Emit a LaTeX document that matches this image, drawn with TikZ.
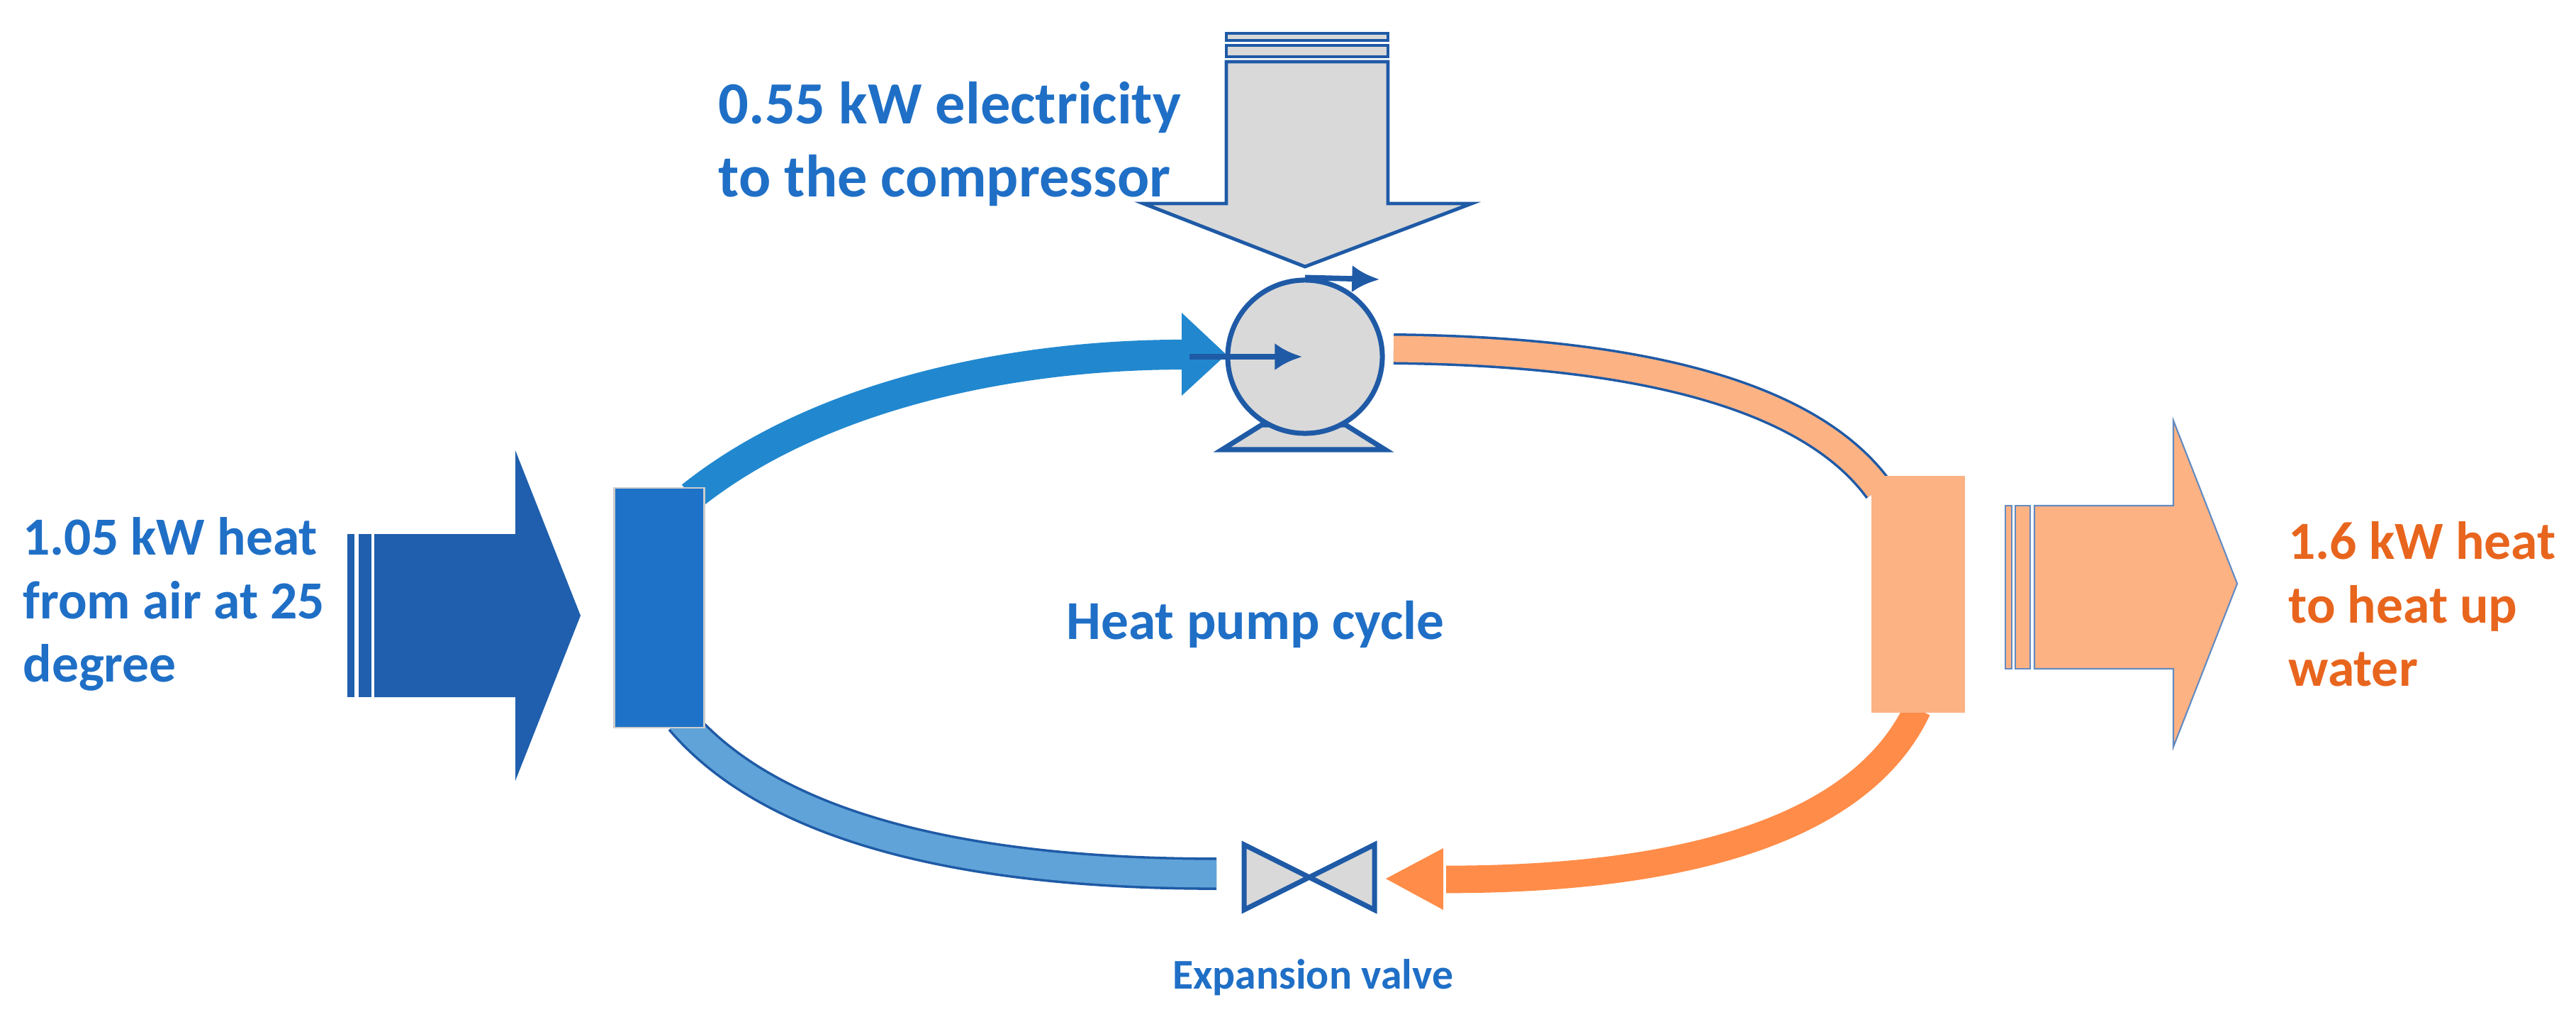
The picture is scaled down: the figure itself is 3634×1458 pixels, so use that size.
\documentclass[tikz,border=0pt]{standalone}
\usepackage{fontspec}
\setmainfont{Carlito}
\usetikzlibrary{shapes.geometric,arrows.meta}
\definecolor{tblue}{HTML}{1F6FC6}
\definecolor{darrow}{HTML}{1F5FAD}
\definecolor{boxb}{HTML}{1E72C8}
\definecolor{arcb}{HTML}{2188CF}
\definecolor{arcl}{HTML}{5FA3D8}
\definecolor{lor}{HTML}{FDB284}
\definecolor{dor}{HTML}{FF8C48}
\definecolor{tor}{HTML}{E8651E}
\definecolor{gr}{HTML}{D9D9D9}
\definecolor{edge}{HTML}{1F5AA6}
\begin{document}
\begin{tikzpicture}[x=0.01cm,y=-0.01cm,
  lbl/.style={font=\bfseries\fontsize{21.5}{25.5}\selectfont,text=tblue,align=left},
  gshape/.style={fill=gr,draw=edge,line width=2pt}]
\useasboundingbox (0,0) rectangle (3634,1458);
% left input arrow
\fill[darrow] (490,753) rectangle (500,983);
\fill[darrow] (506,753) rectangle (524,983);
\fill[darrow] (528,753) -- (727,753) -- (727,635) -- (819,868) -- (727,1101) -- (727,983) -- (528,983) -- cycle;
% top blue arc
\coordinate (a1) at (975,700);
\coordinate (a2) at (1670,500);
\draw[arcb,line width=12pt] (a1) .. controls (1150,560) and (1420,500) .. (a2);
\fill[arcb] (1667,441) -- (1730,500) -- (1667,558) -- cycle;
% orange top arc
\coordinate (o1) at (1966,492);
\coordinate (o2) at (2650,690);
\draw[edge,line width=12.5pt] (o1) .. controls (2260,495) and (2540,540) .. (o2);
\draw[lor,line width=10.5pt] (o1) .. controls (2260,495) and (2540,540) .. (o2);
% bottom blue arc
\coordinate (b1) at (960,1015);
\coordinate (b2) at (1716,1232);
\draw[edge,line width=13pt] (b1) .. controls (1100,1180) and (1400,1232) .. (b2);
\draw[arcl,line width=11pt] (b1) .. controls (1100,1180) and (1400,1232) .. (b2);
% orange bottom arrow
\coordinate (c1) at (2705,1000);
\coordinate (c2) at (2040,1240);
\draw[dor,line width=11pt] (c1) .. controls (2620,1180) and (2350,1240) .. (c2);
\fill[dor] (2036,1196) -- (1955,1239) -- (2036,1283) -- cycle;
% evaporator box
\node[fill=boxb,draw=gray!40,line width=0.6pt,inner sep=0,
  minimum width=1.27cm, minimum height=3.37cm] (evap) at (930,857) {};
% condenser box
\node[fill=lor,inner sep=0,minimum width=1.32cm,minimum height=3.33cm] (cond) at (2706,838) {};
% compressor
\draw[gshape] (1780,599) -- (1898,599) -- (1954,634) -- (1724,634) -- cycle;
\node[ellipse,gshape,minimum width=2.18cm,minimum height=2.16cm,inner sep=0] (comp) at (1841,503) {};
\draw[edge,line width=2.2pt,-{Latex[length=11pt,width=11pt]}] (1678,503) -- (1837,503);
\draw[edge,line width=2.2pt,-{Latex[length=11pt,width=11pt]}] (comp.north) -- (1946,394);
% electricity arrow
\draw[gshape,line width=1.4pt] (1730,47) rectangle (1958,57);
\draw[gshape,line width=1.4pt] (1730,64) rectangle (1958,80);
\draw[gshape,line width=1.4pt] (1730,87) -- (1958,87) -- (1958,287) -- (2076,287) -- (1841,376) -- (1613,287) -- (1730,287) -- cycle;
% valve
\draw[gshape] (1755,1191) -- (1939,1283) -- (1939,1191) -- (1755,1283) -- cycle;
\coordinate (valve) at (1847,1237);
% right output arrow
\fill[lor] (2829,713) rectangle (2838,943);
\fill[lor] (2843,713) rectangle (2864,943);
\draw[edge!70,line width=0.6pt] (2829,713) rectangle (2838,943) (2843,713) rectangle (2864,943);
\fill[lor] (2870,713) -- (3066,713) -- (3066,593) -- (3156,823) -- (3066,1053) -- (3066,943) -- (2870,943) -- cycle;
\draw[edge!70,line width=0.6pt] (2870,713) -- (3066,713) -- (3066,593) -- (3156,823) -- (3066,1053) -- (3066,943) -- (2870,943) -- cycle;
% texts
\node[lbl,anchor=west] (tin) at (20,852) {1.05 kW heat\\from air at 25\\degree};
\node[lbl,align=left,font=\bfseries\fontsize{24}{29.5}\selectfont] (tel) at (1340,203) {0.55 kW electricity\\to the compressor};
\node[lbl,anchor=west,text=tor] (tout) at (3216,852) {1.6 kW heat\\to heat up\\water};
\node[lbl,font=\bfseries\fontsize{22}{26}\selectfont] (tcyc) at (1771,880) {Heat pump cycle};
\node[lbl,font=\bfseries\fontsize{17}{21}\selectfont] (tval) at (1852,1378) {Expansion valve};
\end{tikzpicture}
\end{document}
